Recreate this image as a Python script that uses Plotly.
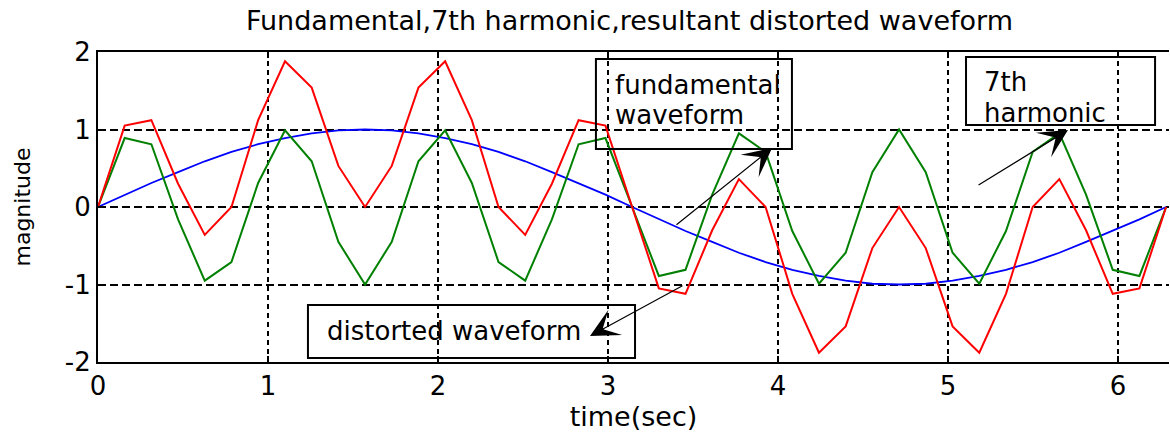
import plotly.graph_objects as go

# Sample instants (s)
t = [0.000, 0.157, 0.314, 0.471, 0.628, 0.785, 0.942, 1.100, 1.257, 1.414,
     1.571, 1.728, 1.885, 2.042, 2.199, 2.356, 2.513, 2.670, 2.827, 2.985,
     3.142, 3.299, 3.456, 3.613, 3.770, 3.927, 4.084, 4.241, 4.398, 4.555,
     4.712, 4.869, 5.027, 5.184, 5.341, 5.498, 5.655, 5.812, 5.969, 6.126,
     6.283]

# Fundamental waveform
fundamental = [0.00, 0.16, 0.31, 0.45, 0.59, 0.71, 0.81, 0.89, 0.95, 0.99,
               1.00, 0.99, 0.95, 0.89, 0.81, 0.71, 0.59, 0.45, 0.31, 0.16,
               0.00, -0.16, -0.31, -0.45, -0.59, -0.71, -0.81, -0.89, -0.95, -0.99,
               -1.00, -0.99, -0.95, -0.89, -0.81, -0.71, -0.59, -0.45, -0.31, -0.16,
               0.00]

# 7th harmonic
harmonic7 = [0.00, 0.89, 0.81, -0.16, -0.95, -0.71, 0.31, 0.99, 0.59, -0.45,
             -1.00, -0.45, 0.59, 0.99, 0.31, -0.71, -0.95, -0.16, 0.81, 0.89,
             0.00, -0.89, -0.81, 0.16, 0.95, 0.71, -0.31, -0.99, -0.59, 0.45,
             1.00, 0.45, -0.59, -0.99, -0.31, 0.71, 0.95, 0.16, -0.81, -0.89,
             0.00]

# Resultant distorted waveform
distorted = [0.00, 1.05, 1.12, 0.30, -0.36, 0.00, 1.12, 1.88, 1.54, 0.53,
             0.00, 0.53, 1.54, 1.88, 1.12, 0.00, -0.36, 0.30, 1.12, 1.05,
             0.00, -1.05, -1.12, -0.30, 0.36, 0.00, -1.12, -1.88, -1.54, -0.53,
             0.00, -0.53, -1.54, -1.88, -1.12, 0.00, 0.36, -0.30, -1.12, -1.05,
             0.00]

x_ticks = [0, 1, 2, 3, 4, 5, 6]
y_ticks = [-2, -1, 0, 1, 2]

FONT = "DejaVu Sans"
INK = "#000000"

fig = go.Figure()
fig.add_trace(go.Scatter(x=t, y=fundamental, mode="lines",
                         line=dict(color="#0000FF", width=1.8)))
fig.add_trace(go.Scatter(x=t, y=harmonic7, mode="lines",
                         line=dict(color="#008000", width=2)))
fig.add_trace(go.Scatter(x=t, y=distorted, mode="lines",
                         line=dict(color="#FF0000", width=2)))

# Text boxes (transparent, thin black frame)
boxes = [
    (2.929, 0.748, 4.082, 1.910),
    (5.106, 1.058, 6.218, 1.935),
    (1.235, -1.948, 3.159, -1.265),
]
for x0, y0, x1, y1 in boxes:
    fig.add_shape(type="rect", xref="x", yref="y", x0=x0, y0=y0, x1=x1, y1=y1,
                  line=dict(color=INK, width=2), fillcolor="rgba(0,0,0,0)")

labels = [
    ("fundamental", 3.029, 1.574),
    ("waveform", 3.029, 1.187),
    ("7th", 5.200, 1.613),
    ("harmonic", 5.200, 1.213),
    ("distorted waveform", 1.335, -1.600),
]
for txt, x, y in labels:
    fig.add_annotation(text=txt, x=x, y=y, xref="x", yref="y",
                       xanchor="left", yanchor="middle", showarrow=False,
                       font=dict(family=FONT, size=26, color=INK))

# Pointer arrows: (head x, head y, tail x, tail y)
arrows = [
    (3.965, 0.761, 3.394, -0.245),
    (2.894, -1.665, 3.447, -1.006),
    (5.706, 0.994, 5.171, 0.271),
]
for hx, hy, tx, ty in arrows:
    fig.add_annotation(text="", x=hx, y=hy, ax=tx, ay=ty,
                       xref="x", yref="y", axref="x", ayref="y",
                       showarrow=True, arrowhead=3, arrowsize=4,
                       arrowwidth=1.2, arrowcolor=INK)

fig.update_layout(
    width=1170, height=433,
    margin=dict(l=98, r=1, t=52, b=71),
    paper_bgcolor="white", plot_bgcolor="white",
    showlegend=False,
    font=dict(family=FONT, size=26, color=INK),
    title=dict(text="Fundamental,7th harmonic,resultant distorted waveform",
               x=0.538, xanchor="center", y=1 - 21 / 433, yanchor="middle",
               yref="container", font=dict(family=FONT, size=27, color=INK)),
)
fig.update_xaxes(
    range=[0, 6.3], tickvals=x_ticks, ticktext=[str(v) for v in x_ticks],
    showline=True, linecolor=INK, linewidth=2, mirror="ticks",
    ticks="inside", ticklen=6, tickwidth=2, tickcolor=INK,
    showgrid=True, gridcolor=INK, gridwidth=2, griddash="5px,4px",
    zeroline=False,
    tickfont=dict(family=FONT, size=26, color=INK),
    title=dict(text="time(sec)", standoff=4,
               font=dict(family=FONT, size=27, color=INK)),
)
fig.update_yaxes(
    range=[-2, 2], tickvals=y_ticks, ticktext=[str(v) for v in y_ticks],
    showline=True, linecolor=INK, linewidth=2, mirror=False,
    ticks="inside", ticklen=6, tickwidth=2, tickcolor=INK,
    showgrid=True, gridcolor=INK, gridwidth=2, griddash="8px,4px",
    zeroline=False,
    tickfont=dict(family=FONT, size=26, color=INK),
    title=dict(text="magnitude", standoff=28,
               font=dict(family=FONT, size=22, color=INK)),
)

fig.write_html("out.html")
